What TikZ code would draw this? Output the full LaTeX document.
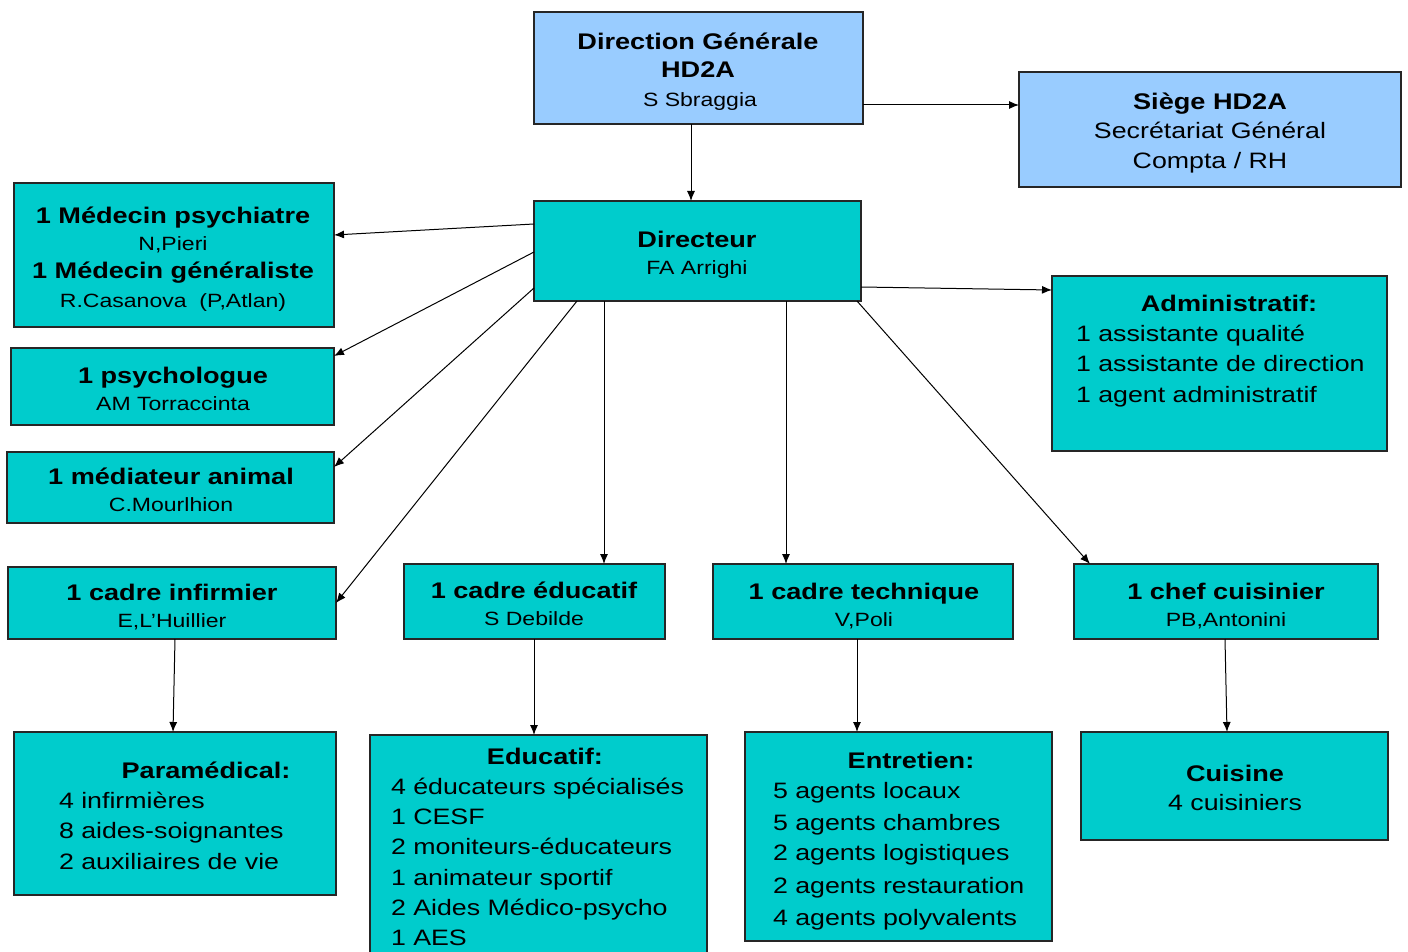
\documentclass[tikz,border=0pt]{standalone}
\usepackage{fontspec}
\setmainfont[FakeStretch=1.2]{Liberation Sans}
\usetikzlibrary{arrows.meta}
\definecolor{lblue}{RGB}{153,204,255}
\definecolor{teal2}{RGB}{0,204,204}
\newcommand\ctext[4]{\node[ttxt,anchor=mid] (#1) at (#2,#3) {#4};}
\newcommand\ltext[4]{\node[ttxt,anchor=mid west] (#1) at (#2,#3) {#4};}
\tikzset{
  boxbase/.style={draw=black!85,line width=1.2pt,inner sep=0pt,outer sep=0pt,anchor=north west,rectangle},
  bluebox/.style={boxbase,fill=lblue},
  tealbox/.style={boxbase,fill=teal2},
  ttxt/.style={inner sep=0pt,outer sep=0pt,text=black,yshift=-6pt},
  conn/.style={line width=1pt,-{Latex[length=10pt,width=8pt]}},
}
\newcommand\hb[1]{{\fontsize{22.6}{26}\selectfont\bfseries #1}}
\newcommand\hr[1]{{\fontsize{22.3}{26}\selectfont #1}}
\newcommand\hs[1]{{\fontsize{19.2}{22}\selectfont #1}}
\begin{document}
\begin{tikzpicture}[x=1pt,y=-1pt]
\clip (0,0) rectangle (1408,952);
\fill[white] (0,0) rectangle (1408,952);
% boxes
\node[bluebox,minimum width=329pt,minimum height=112pt] (dg) at (534,12) {};
\node[bluebox,minimum width=382pt,minimum height=115pt] (siege) at (1019,72) {};
\node[tealbox,minimum width=327pt,minimum height=100pt] (dir) at (534,201) {};
\node[tealbox,minimum width=320pt,minimum height=144pt] (med) at (14,183) {};
\node[tealbox,minimum width=323pt,minimum height=77pt] (psy) at (11,348) {};
\node[tealbox,minimum width=327pt,minimum height=71pt] (mda) at (7,452) {};
\node[tealbox,minimum width=328pt,minimum height=72pt] (cinf) at (8,567) {};
\node[tealbox,minimum width=261pt,minimum height=75pt] (cedu) at (404,564) {};
\node[tealbox,minimum width=300pt,minimum height=75pt] (ctech) at (713,564) {};
\node[tealbox,minimum width=304pt,minimum height=75pt] (chef) at (1074,564) {};
\node[tealbox,minimum width=335pt,minimum height=175pt] (admin) at (1052,276) {};
\node[tealbox,minimum width=322pt,minimum height=163pt] (para) at (14,732) {};
\node[tealbox,minimum width=337pt,minimum height=240pt] (edu) at (370,735) {};
\node[tealbox,minimum width=307pt,minimum height=209pt] (ent) at (745,732) {};
\node[tealbox,minimum width=307pt,minimum height=108pt] (cuis) at (1081,732) {};
% texts
\ctext{dg1}{698}{41}{\hb{Direction Générale}}
\ctext{dg2}{698}{69}{\hb{HD2A}}
\ctext{dg3}{700}{98}{\hs{S Sbraggia}}
\ctext{si1}{1210}{101}{\hb{Siège HD2A}}
\ctext{si2}{1210}{130}{\hr{Secrétariat Général}}
\ctext{si3}{1210}{160}{\hr{Compta / RH}}
\ctext{di1}{697}{239}{\hb{Directeur}}
\ctext{di2}{697}{266}{\hs{FA Arrighi}}
\ctext{me1}{173}{215}{\hb{1 Médecin psychiatre}}
\ctext{me2}{173}{242}{\hs{N,Pieri}}
\ctext{me3}{173}{270}{\hb{1 Médecin généraliste}}
\ctext{me4}{173}{299}{\hs{R.Casanova\ \ (P,Atlan)}}
\ctext{ps1}{173}{375}{\hb{1 psychologue}}
\ctext{ps2}{173}{402}{\hs{AM Torraccinta}}
\ctext{ma1}{171}{476}{\hb{1 médiateur animal}}
\ctext{ma2}{171}{503}{\hs{C.Mourlhion}}
\ctext{ci1}{172}{592}{\hb{1 cadre infirmier}}
\ctext{ci2}{172}{619}{\hs{E,L’Huillier}}
\ctext{ce1}{534}{590}{\hb{1 cadre éducatif}}
\ctext{ce2}{534}{617}{\hs{S Debilde}}
\ctext{ct1}{864}{591}{\hb{1 cadre technique}}
\ctext{ct2}{864}{618}{\hs{V,Poli}}
\ctext{ch1}{1226}{591}{\hb{1 chef cuisinier}}
\ctext{ch2}{1226}{618}{\hs{PB,Antonini}}
\ctext{ad0}{1229}{303}{\hb{Administratif:}}
\ltext{ad1}{1076}{333}{\hr{1 assistante qualité}}
\ltext{ad2}{1076}{363}{\hr{1 assistante de direction}}
\ltext{ad3}{1076}{394}{\hr{1 agent administratif}}
\ctext{pa0}{206}{770}{\hb{Paramédical:}}
\ltext{pa1}{59}{800}{\hr{4 infirmières}}
\ltext{pa2}{59}{830}{\hr{8 aides-soignantes}}
\ltext{pa3}{59}{861}{\hr{2 auxiliaires\ de vie}}
\ctext{ed0}{545}{756}{\hb{Educatif:}}
\ltext{ed1}{391}{786}{\hr{4 éducateurs spécialisés}}
\ltext{ed2}{391}{816}{\hr{1 CESF}}
\ltext{ed3}{391}{846}{\hr{2 moniteurs-éducateurs}}
\ltext{ed4}{391}{877}{\hr{1 animateur sportif}}
\ltext{ed5}{391}{907}{\hr{2 Aides Médico-psycho}}
\ltext{ed6}{391}{937}{\hr{1 AES}}
\ctext{en0}{911}{760}{\hb{Entretien:}}
\ltext{en1}{773}{790}{\hr{5 agents locaux}}
\ltext{en2}{773}{822}{\hr{5 agents chambres}}
\ltext{en3}{773}{852}{\hr{2 agents logistiques}}
\ltext{en4}{773}{885}{\hr{2 agents restauration}}
\ltext{en5}{773}{917}{\hr{4 agents polyvalents}}
\ctext{cu1}{1235}{773}{\hb{Cuisine}}
\ctext{cu2}{1235}{802}{\hr{4 cuisiniers}}
% connectors
\coordinate (p1) at ([xshift=157pt]dg.south west);
\draw[conn] (p1) -- (p1 |- dir.north);
\coordinate (p2) at ([yshift=-93pt]dg.north east);
\draw[conn] (p2) -- (p2 -| siege.west);
\draw[conn] ([yshift=-23pt]dir.north west) -- ([yshift=-52pt]med.north east);
\draw[conn] ([yshift=-51pt]dir.north west) -- ([yshift=-8pt]psy.north east);
\draw[conn] ([yshift=-87pt]dir.north west) -- ([yshift=-15pt]mda.north east);
\draw[conn] ([xshift=43pt]dir.south west) -- ([yshift=-36pt]cinf.north east);
\coordinate (p3) at ([xshift=70pt]dir.south west);
\draw[conn] (p3) -- (p3 |- cedu.north);
\coordinate (p4) at ([xshift=252pt]dir.south west);
\draw[conn] (p4) -- (p4 |- ctech.north);
\draw[conn] ([xshift=-4pt]dir.south east) -- ([xshift=16pt]chef.north west);
\draw[conn] ([yshift=-86pt]dir.north east) -- ([yshift=-14pt]admin.north west);
\draw[conn] ([xshift=167pt]cinf.south west) -- ([xshift=159pt]para.north west);
\coordinate (p5) at ([xshift=130pt]cedu.south west);
\draw[conn] (p5) -- (p5 |- edu.north);
\coordinate (p6) at ([xshift=144pt]ctech.south west);
\draw[conn] (p6) -- (p6 |- ent.north);
\draw[conn] ([xshift=151pt]chef.south west) -- ([xshift=146pt]cuis.north west);
\end{tikzpicture}
\end{document}
